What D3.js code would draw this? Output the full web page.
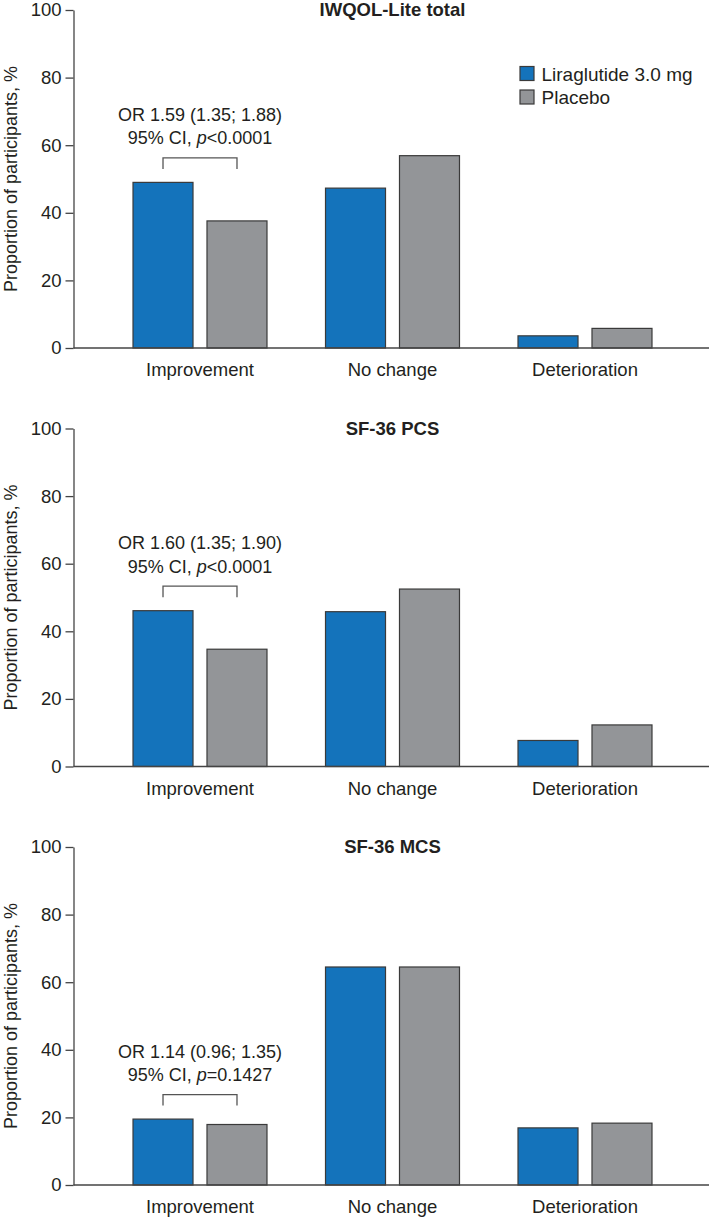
<!DOCTYPE html>
<html>
<head>
<meta charset="utf-8">
<script src="https://cdn.jsdelivr.net/npm/d3@7"></script>
<style>
  html, body { margin: 0; padding: 0; background: #fff; }
  svg { display: block; }
  text { font-family: "Liberation Sans", Arial, Helvetica, sans-serif; fill: #231f20; }
</style>
</head>
<body>
<div id="chart"></div>
<script>
// ---------- data ----------
const categories = ["Improvement", "No change", "Deterioration"];
const seriesNames = ["Liraglutide 3.0 mg", "Placebo"];
const panelTitles = ["IWQOL-Lite total", "SF-36 PCS", "SF-36 MCS"];
const yTicks = [0, 20, 40, 60, 80, 100];

const liraglutideIWQOL = [49.0, 47.3, 3.6];
const placeboIWQOL     = [37.6, 56.9, 5.8];
const liraglutidePCS   = [46.1, 45.8, 7.7];
const placeboPCS       = [34.7, 52.5, 12.3];
const liraglutideMCS   = [19.5, 64.5, 16.9];
const placeboMCS       = [17.9, 64.5, 18.3];

const orLabels = ["OR 1.59 (1.35; 1.88)", "OR 1.60 (1.35; 1.90)", "OR 1.14 (0.96; 1.35)"];
const pLabels  = ["<0.0001", "<0.0001", "=0.1427"];

const panels = [
  { title: panelTitles[0], lira: liraglutideIWQOL, plac: placeboIWQOL, or: orLabels[0], p: pLabels[0] },
  { title: panelTitles[1], lira: liraglutidePCS,   plac: placeboPCS,   or: orLabels[1], p: pLabels[1] },
  { title: panelTitles[2], lira: liraglutideMCS,   plac: placeboMCS,   or: orLabels[2], p: pLabels[2] }
];

// ---------- layout ----------
const W = 709, H = 1218;
const FS = 18.5;
const colors = { [seriesNames[0]]: "#1473bb", [seriesNames[1]]: "#939598" };
const panelTops = [10, 428.5, 847];
const plotH = 338;
const axisX = 73.5;

const svg = d3.select("#chart").append("svg").attr("width", W).attr("height", H);

const x0 = d3.scaleBand().domain(categories).range([103.75, 681.25])
  .paddingInner(0.304).paddingOuter(0.152);
const x1 = d3.scaleBand().domain(seriesNames).range([0, x0.bandwidth()])
  .paddingInner(0.189).paddingOuter(0);

panels.forEach((pn, i) => {
  const top = panelTops[i];
  const y = d3.scaleLinear().domain([0, 100]).range([top + plotH, top]);
  const g = svg.append("g");

  // y axis
  const yAxis = d3.axisLeft(y).tickValues(yTicks).tickSize(8).tickPadding(4).tickSizeOuter(0);
  const ya = g.append("g").attr("transform", `translate(${axisX},0)`).call(yAxis);
  ya.select(".domain").attr("stroke", "#444").attr("stroke-width", 1.3);
  ya.selectAll(".tick line").attr("stroke", "#444").attr("stroke-width", 1.3);
  ya.selectAll(".tick text").attr("font-size", FS).attr("fill", "#231f20")
    .attr("font-family", "Liberation Sans, Arial, sans-serif");

  // y label
  g.append("text")
    .attr("transform", `translate(17,${top + plotH / 2}) rotate(-90)`)
    .attr("text-anchor", "middle")
    .attr("font-size", 18)
    .text("Proportion of participants, %");

  // title
  g.append("text")
    .attr("x", 392.5).attr("y", y(100) + 6)
    .attr("text-anchor", "middle")
    .attr("font-size", FS).attr("font-weight", "bold")
    .text(pn.title);

  // bars
  const rows = categories.map((c, k) => ({
    cat: c,
    vals: [{ s: seriesNames[0], v: pn.lira[k] }, { s: seriesNames[1], v: pn.plac[k] }]
  }));
  const grp = g.selectAll(".grp").data(rows).join("g")
    .attr("transform", d => `translate(${x0(d.cat)},0)`);
  grp.selectAll("rect").data(d => d.vals).join("rect")
    .attr("x", d => x1(d.s))
    .attr("width", x1.bandwidth())
    .attr("y", d => y(d.v))
    .attr("height", d => y(0) - y(d.v))
    .attr("fill", d => colors[d.s])
    .attr("stroke", "#3a3a3a").attr("stroke-width", 1.2);

  // baseline (x axis)
  g.append("line")
    .attr("x1", axisX).attr("x2", W)
    .attr("y1", y(0)).attr("y2", y(0))
    .attr("stroke", "#444").attr("stroke-width", 1.3);

  // category labels
  g.selectAll(".cat").data(categories).join("text")
    .attr("x", d => x0(d) + x0.bandwidth() / 2)
    .attr("y", y(0) + 28)
    .attr("text-anchor", "middle")
    .attr("font-size", FS)
    .text(d => d);

  // bracket over Improvement
  const c0 = categories[0];
  const bx1 = x0(c0) + x1(seriesNames[0]) + x1.bandwidth() / 2;
  const bx2 = x0(c0) + x1(seriesNames[1]) + x1.bandwidth() / 2;
  const topBar = y(Math.max(pn.lira[0], pn.plac[0]));
  const bTop = topBar - 24.5, bLeg = topBar - 13.5;
  g.append("path")
    .attr("d", `M${bx1},${bLeg}V${bTop}H${bx2}V${bLeg}`)
    .attr("fill", "none").attr("stroke", "#555").attr("stroke-width", 1.3);

  const cx = (bx1 + bx2) / 2;
  g.append("text").attr("x", cx).attr("y", bTop - 37)
    .attr("text-anchor", "middle").attr("font-size", 18).text(pn.or);
  const t2 = g.append("text").attr("x", cx).attr("y", bTop - 13.5)
    .attr("text-anchor", "middle").attr("font-size", 18);
  t2.append("tspan").text("95% CI, ");
  t2.append("tspan").attr("font-style", "italic").text("p");
  t2.append("tspan").text(pn.p);

  // legend (first panel only)
  if (i === 0) {
    const lg = g.append("g").attr("transform", `translate(520,${top})`);
    seriesNames.forEach((s, k) => {
      lg.append("rect")
        .attr("x", 0).attr("y", 56.5 + k * 23.5)
        .attr("width", 14).attr("height", 14)
        .attr("fill", colors[s]).attr("stroke", "#3a3a3a").attr("stroke-width", 1.2);
      lg.append("text")
        .attr("x", 21.5).attr("y", 71 + k * 23)
        .attr("font-size", 19).text(s);
    });
  }
});
</script>
</body>
</html>
